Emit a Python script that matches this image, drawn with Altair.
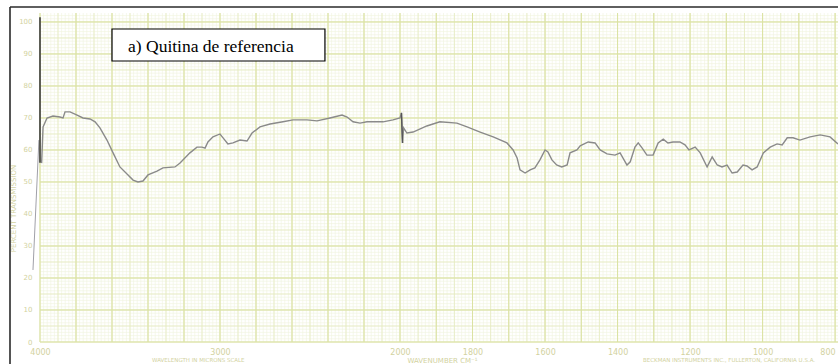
import altair as alt
import pandas as pd

# IR transmission spectrum of reference chitin
wavenumber = [
    3991, 3983, 3961, 3928, 3889, 3872, 3861, 3833, 3794, 3761, 3722, 3694,
    3667, 3628, 3594, 3556, 3511, 3483, 3456, 3428, 3400, 3350, 3317, 3250,
    3222, 3167, 3128, 3100, 3083, 3067, 3039, 3000, 2983, 2956, 2928, 2889,
    2850, 2822, 2778, 2722, 2650, 2594, 2517, 2461, 2389, 2322, 2294, 2261,
    2222, 2183, 2094, 2039, 2000, 1996, 1993, 1990, 1981, 1964, 1926, 1890,
    1843, 1815, 1779, 1743, 1705, 1688, 1677, 1669, 1655, 1641, 1628, 1614,
    1600, 1592, 1581, 1568, 1554, 1539, 1531, 1512, 1503, 1481, 1462, 1448,
    1429, 1407, 1393, 1374, 1365, 1352, 1343, 1332, 1319, 1302, 1288, 1274,
    1261, 1247, 1228, 1214, 1203, 1186, 1172, 1153, 1139, 1125, 1112, 1098,
    1084, 1070, 1054, 1043, 1029, 1015, 998, 979, 960, 946, 932, 916,
    897, 869, 841, 814, 792,
]
transmittance = [
    55.9, 67.2, 70.0, 70.6, 70.3, 70.0, 71.9, 71.9, 70.9, 70.0, 69.7, 68.8,
    66.9, 63.1, 59.1, 54.7, 52.2, 50.6, 50.0, 50.3, 52.2, 53.4, 54.4, 54.7,
    55.9, 59.1, 60.9, 60.9, 60.6, 62.5, 64.1, 65.0, 63.8, 61.9, 62.2, 63.1,
    62.8, 65.3, 67.2, 68.1, 68.8, 69.4, 69.4, 69.1, 70.0, 70.9, 70.3, 68.8,
    68.4, 68.8, 68.8, 69.4, 70.0, 71.6, 62.2, 66.9, 65.3, 65.6, 67.5, 68.8,
    68.4, 67.2, 65.6, 64.1, 62.2, 60.0, 57.5, 53.8, 52.8, 53.8, 54.4, 56.9,
    60.0, 59.4, 56.9, 55.3, 54.7, 55.3, 59.1, 60.0, 61.3, 62.5, 62.2, 60.0,
    58.8, 58.4, 59.1, 55.3, 56.3, 60.9, 62.2, 60.6, 58.4, 58.4, 62.2, 63.4,
    62.2, 62.5, 62.5, 61.6, 60.0, 60.9, 59.1, 54.7, 57.8, 55.3, 54.7, 55.3,
    52.8, 53.1, 55.3, 55.0, 53.8, 54.7, 59.1, 60.9, 61.9, 61.6, 63.8, 63.8,
    63.1, 64.1, 64.7, 64.1, 61.9,
]

# pen marks: start stroke at 4000 and the chart-change jolt near 2000
pen_start_wn = [4000, 4000]
pen_start_t = [101.5, 56.0]
spike_wn = [1996, 1993]
spike_t = [71.6, 62.2]
# faint pen drag left of the chart edge
drag_wn = [4006, 4039]
drag_t = [63.1, 22.5]

x_ticks = [4000, 3000, 2000, 1800, 1600, 1400, 1200, 1000, 800]
y_ticks = list(range(0, 101, 10))

# the recorder paper doubles its scale below 2000 cm-1
xscale = alt.Scale(domain=[4000, 2000, 792], range=[0, 360, 798], nice=False, zero=False)
yscale = alt.Scale(domain=[0, 102.8], nice=False, zero=False)

W, H = 798, 329
LABEL = "#d2d2a0"


def grid_values(step_hi, step_lo):
    hi = list(range(4000, 2000, -step_hi))
    lo = list(range(2000, 791, -step_lo))
    return hi + lo


def vrules(values, color, width):
    return alt.Chart(pd.DataFrame({"v": values})).mark_rule(
        color=color, strokeWidth=width
    ).encode(x=alt.X("v:Q", scale=xscale, axis=None))


def hrules(values, color, width):
    return alt.Chart(pd.DataFrame({"v": values})).mark_rule(
        color=color, strokeWidth=width
    ).encode(y=alt.Y("v:Q", scale=yscale, axis=None))


grid = [
    vrules(grid_values(20, 10), "#f0f3de", 0.6),
    hrules(list(range(0, 103)), "#f0f3de", 0.6),
    vrules(grid_values(100, 50), "#e6ebc0", 0.8),
    hrules(list(range(0, 103, 5)), "#e6ebc0", 0.8),
    vrules(grid_values(200, 100), "#dbe2a2", 1.0),
    hrules(list(range(0, 101, 10)), "#dbe2a2", 1.0),
]

spec = pd.DataFrame({"wn": wavenumber, "t": transmittance, "i": range(len(wavenumber))})

x_axis = alt.Axis(
    values=x_ticks, format="d", labelColor=LABEL, labelFontSize=8, labelFont="DejaVu Sans",
    labelFlush=False, labelOverlap=False, labelPadding=6, ticks=False, domain=False,
    labelAlign=alt.expr("datum.value == 800 ? 'right' : 'center'"),
    grid=False, title="WAVENUMBER CM\u207b\u00b9", titleColor=LABEL, titleFontSize=7,
    titleFont="DejaVu Sans", titleFontWeight="normal", titleX=402, titleY=21,
    titleBaseline="bottom", titleAnchor="middle",
)
y_axis = alt.Axis(
    values=y_ticks, labelColor=LABEL, labelFontSize=7, labelFont="DejaVu Sans",
    labelPadding=8, ticks=False, domain=False, grid=False,
    title="PERCENT TRANSMISSION", titleColor=LABEL, titleFontSize=7,
    titleFont="DejaVu Sans", titleFontWeight="normal", titleX=-24, titleY=195,
    titleAngle=270,
)

curve = alt.Chart(spec).mark_line(color="#8a8a8a", strokeWidth=1.4).encode(
    x=alt.X("wn:Q", scale=xscale, axis=x_axis),
    y=alt.Y("t:Q", scale=yscale, axis=y_axis),
    order=alt.Order("i:Q"),
)

pen_start = alt.Chart(pd.DataFrame({"wn": pen_start_wn, "t": pen_start_t})).mark_line(
    color="#3a3a3a", strokeWidth=1.6
).encode(x=alt.X("wn:Q", scale=xscale, axis=None), y=alt.Y("t:Q", scale=yscale, axis=None))

spike = alt.Chart(pd.DataFrame({"wn": spike_wn, "t": spike_t})).mark_line(
    color="#555555", strokeWidth=1.4
).encode(x=alt.X("wn:Q", scale=xscale, axis=None), y=alt.Y("t:Q", scale=yscale, axis=None))

drag = alt.Chart(pd.DataFrame({"wn": drag_wn, "t": drag_t})).mark_line(
    color="#a0a0a8", strokeWidth=1.0
).encode(x=alt.X("wn:Q", scale=xscale, axis=None), y=alt.Y("t:Q", scale=yscale, axis=None))

# caption box
box = alt.Chart(pd.DataFrame({"x1": [3600], "x2": [2417], "y1": [97.8], "y2": [87.8]})).mark_rect(
    fill="white", stroke="black", strokeWidth=1.2
).encode(
    x=alt.X("x1:Q", scale=xscale, axis=None), x2="x2:Q",
    y=alt.Y("y1:Q", scale=yscale, axis=None), y2="y2:Q",
)
caption = alt.Chart(pd.DataFrame({"x": [3511], "y": [90.6], "txt": ["a) Quitina de referencia"]})).mark_text(
    font="Liberation Serif", fontSize=17.5, color="black", align="left", baseline="alphabetic"
).encode(
    x=alt.X("x:Q", scale=xscale, axis=None), y=alt.Y("y:Q", scale=yscale, axis=None), text="txt:N"
)

# printed notes along the bottom edge of the chart paper
notes = alt.Chart(pd.DataFrame({
    "px": [112, 603],
    "txt": ["WAVELENGTH IN MICRONS SCALE", "BECKMAN INSTRUMENTS INC., FULLERTON, CALIFORNIA U.S.A."],
})).mark_text(
    font="DejaVu Sans", fontSize=5.5, color=LABEL, align="left", baseline="bottom"
).encode(x=alt.X("px:Q", scale=None, axis=None), y=alt.value(H + 21), text="txt:N")

# scan frame
frame_top = alt.Chart(pd.DataFrame({"a": [0]})).mark_rule(color="#2a2a2a", strokeWidth=1.6).encode(
    x=alt.value(-30), x2=alt.value(W + 2), y=alt.value(-6)
)
frame_left = alt.Chart(pd.DataFrame({"a": [0]})).mark_rule(color="#2a2a2a", strokeWidth=1.6).encode(
    x=alt.value(-30), y=alt.value(-6), y2=alt.value(H + 24)
)

chart = alt.layer(
    *grid, drag, curve, pen_start, spike, box, caption, notes, frame_top, frame_left
).resolve_axis(
    x="independent", y="independent"
).properties(
    width=W, height=H,
    autosize=alt.AutoSizeParams(type="none"),
    padding={"left": 40, "top": 13, "right": 0, "bottom": 22},
    background="white",
).configure_view(stroke=None)

chart.save("out.html", embed_options={"renderer": "svg", "actions": False})
